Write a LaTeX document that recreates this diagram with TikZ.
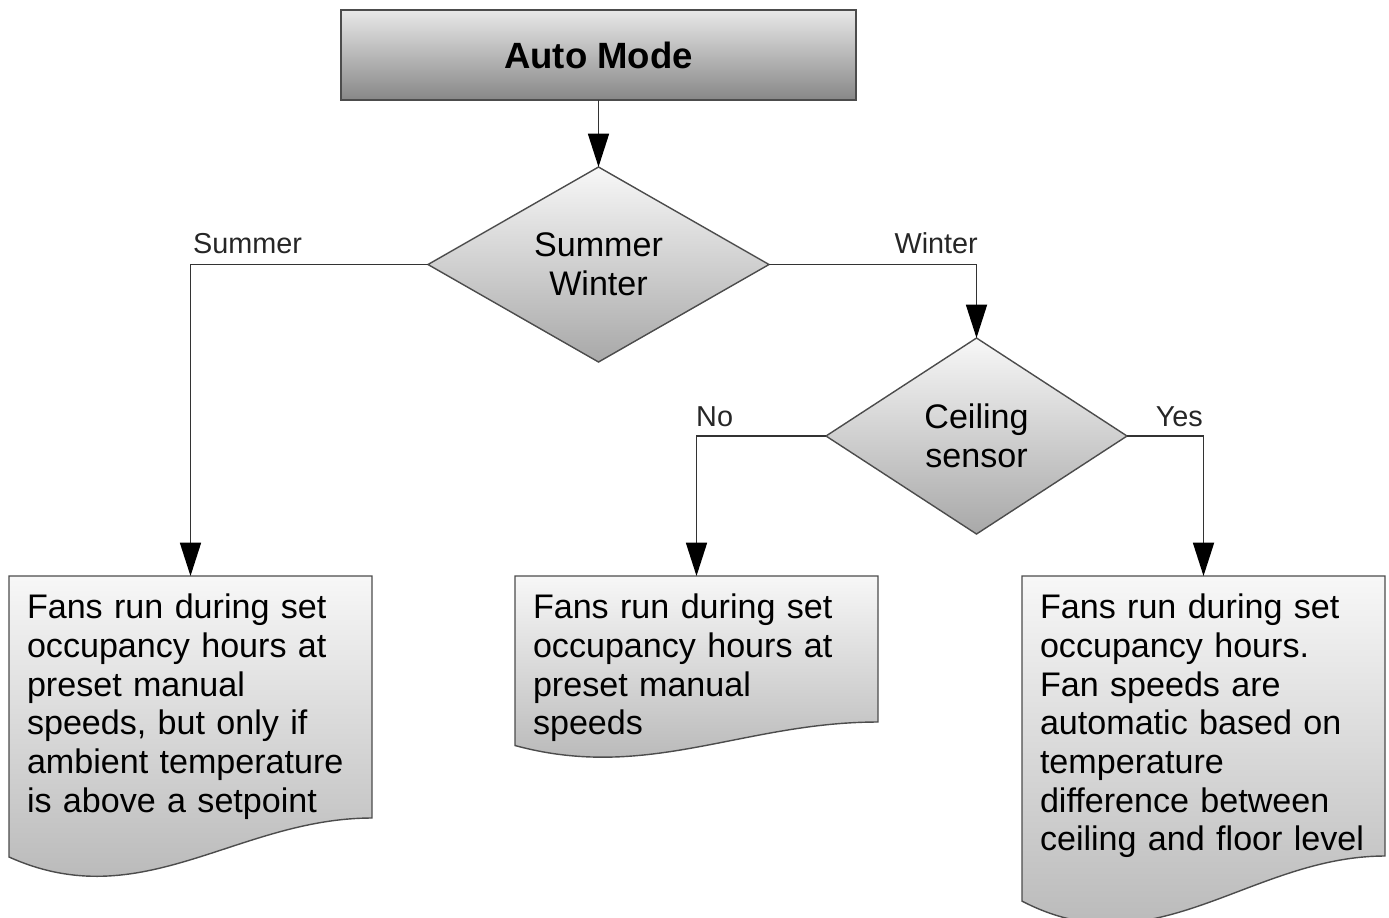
\documentclass[tikz,border=0pt]{standalone}
\usepackage{fontspec}
\setmainfont{Liberation Sans}
\usetikzlibrary{arrows.meta,shapes.geometric,backgrounds,calc}

\tikzset{
  flow/.style={draw=black!80, line width=0.4pt, -{Triangle[length=9.5pt,width=6pt,color=black]}},
  modebox/.style={rectangle, draw=black!70, top color=black!9, bottom color=black!47,
    minimum width=5.15cm, minimum height=0.9cm, outer sep=0pt,
    font=\fontsize{10.4}{12}\selectfont\bfseries},
  choice/.style={diamond, draw=black!70, top color=white!97!black, bottom color=black!34,
    inner sep=0pt, outer sep=0pt, align=center, font=\fontsize{9.7}{11}\selectfont},
  action/.style={rectangle, anchor=north, text width=3.27cm, inner xsep=0.18cm,
    inner ysep=0.18cm, outer sep=0pt, align=left, font=\fontsize{9.7}{11}\selectfont},
  branch/.style={inner sep=0pt, font=\fontsize{8.2}{10}\selectfont, text=black!85},
  docfill/.style={draw=black!70, line width=0.4pt, top color=white!97!black, bottom color=black!30}
}

% document shape under an action node: #1 node, #2 drop of the right edge
\newcommand{\docshape}[2]{%
  \path[docfill] (#1.north east) -- (#1.north west) -- ++(0,-1.161*#2)
    .. controls +(1.33,-0.248*#2) and +(-1.35,0) .. ($(#1.north east)+(0,-#2)$) -- cycle;}

\begin{document}
\begin{tikzpicture}
  \useasboundingbox (0,0) rectangle (13.89,-9.17);

  \node[modebox] (mode) at (5.985,-0.55) {Auto Mode};
  \node[choice, minimum width=3.41cm, minimum height=1.95cm] (season) at (5.985,-2.645) {Summer\\Winter};
  \node[choice, minimum width=3.01cm, minimum height=1.96cm] (sensor) at (9.765,-4.36) {Ceiling\\sensor};

  \node[action] (manualsummer) at (1.905,-5.76) {Fans run during set\\occupancy hours at\\preset manual\\speeds, but only if\\ambient temperature\\is above a setpoint};
  \node[action] (manualwinter) at (6.965,-5.76) {Fans run during set\\occupancy hours at\\preset manual\\speeds};
  \node[action] (autowinter) at (12.035,-5.76) {Fans run during set\\occupancy hours.\\Fan speeds are\\automatic based on\\temperature\\difference between\\ceiling and floor level};

  \begin{scope}[on background layer]
    \docshape{manualsummer}{2.42}
    \docshape{manualwinter}{1.46}
    \docshape{autowinter}{2.80}
  \end{scope}

  \draw[flow] (mode) -- (season);
  \draw[flow] (season.west) -| (manualsummer.north)
    node[pos=0.5, branch, anchor=base west, xshift=0.02cm, yshift=0.11cm] {Summer};
  \draw[flow] (season.east) -| (sensor.north)
    node[pos=0.5, branch, anchor=base east, xshift=0.02cm, yshift=0.11cm] {Winter};
  \draw[flow] (sensor.west) -| (manualwinter.north)
    node[pos=0.5, branch, anchor=base west, xshift=-0.01cm, yshift=0.1cm] {No};
  \draw[flow] (sensor.east) -| (autowinter.north)
    node[pos=0.5, branch, anchor=base east, yshift=0.1cm] {Yes};
\end{tikzpicture}
\end{document}
